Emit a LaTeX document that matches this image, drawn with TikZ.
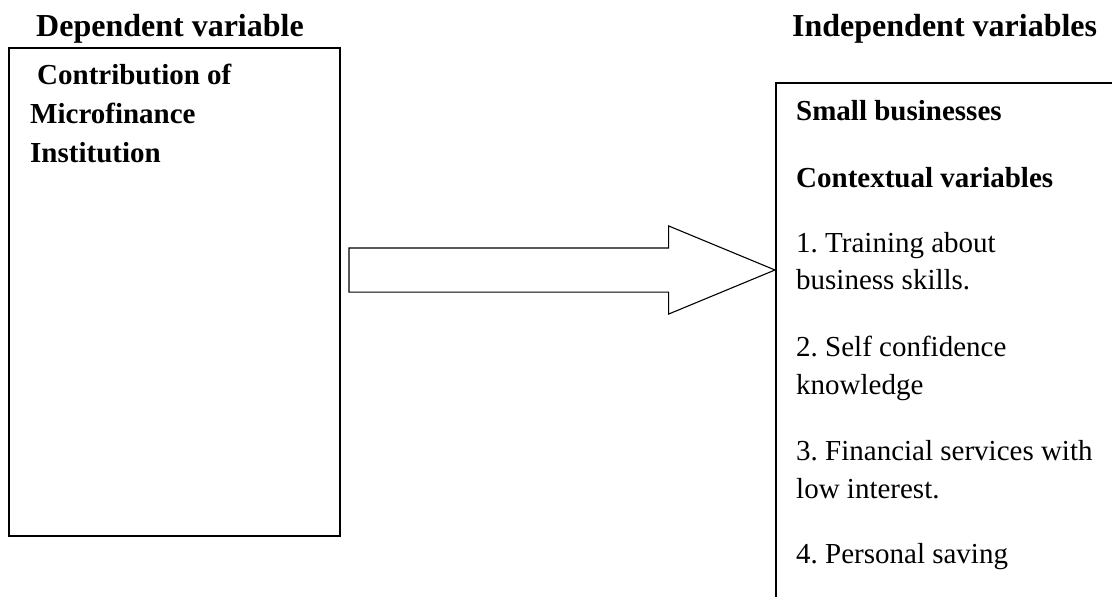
\documentclass[tikz,border=0pt]{standalone}
\usepackage{fontspec}
\setmainfont{Liberation Serif}
\usetikzlibrary{positioning, shapes.arrows, calc}
\frenchspacing

\begin{document}
\begin{tikzpicture}[
    x=1pt, y=-1pt,
    frame/.style={rectangle, draw, line width=1.6pt, inner sep=0pt, anchor=north west},
    heading/.style={font=\fontsize{32}{38}\selectfont\bfseries, anchor=base west, inner sep=0pt},
    boldline/.style={font=\fontsize{29}{38}\selectfont\bfseries, anchor=base west, inner sep=0pt},
    itemline/.style={font=\fontsize{29}{38}\selectfont, anchor=base west, inner sep=0pt},
    bigarrow/.style={single arrow, draw, line width=1.1pt, inner xsep=0pt, inner ysep=21.5pt, outer sep=0pt,
        single arrow head extend=22pt, single arrow tip angle=45, minimum height=426pt, anchor=tip}
]
    \path[use as bounding box, clip] (0,0) rectangle (1112,597);

    % headings
    \node[heading] (dep) at (36,36) {Dependent variable};
    \node[heading] (indep) at (792,36) {Independent variables};

    % boxes
    \node[frame, minimum width=331pt, minimum height=488pt] (lbox) at (8,47) {};
    \node[frame, minimum width=400pt, minimum height=560pt] (rbox) at (775,82) {};

    % left box text
    \node[boldline] (contrib) at (37,84) {Contribution of};
    \node[boldline] (micro) at (30,123) {Microfinance};
    \node[boldline] (inst) at (30,162) {Institution};

    % right box text
    \node[boldline] (small) at (796,120) {Small businesses};
    \node[boldline] (context) at (796,187) {Contextual variables};
    \node[itemline] (itemA) at (796,252) {1. Training about};
    \node[itemline] (itemAb) at (796,289) {business skills.};
    \node[itemline] (itemB) at (796,356) {2. Self confidence};
    \node[itemline] (itemBb) at (796,394) {knowledge};
    \node[itemline] (itemC) at (796,460) {3. Financial services with};
    \node[itemline] (itemCb) at (796,498) {low interest.};
    \node[itemline] (itemD) at (796,563) {4. Personal saving};

    % block arrow
    \node[bigarrow] (flow) at (rbox.north west |- 0,270) {};
\end{tikzpicture}
\end{document}
